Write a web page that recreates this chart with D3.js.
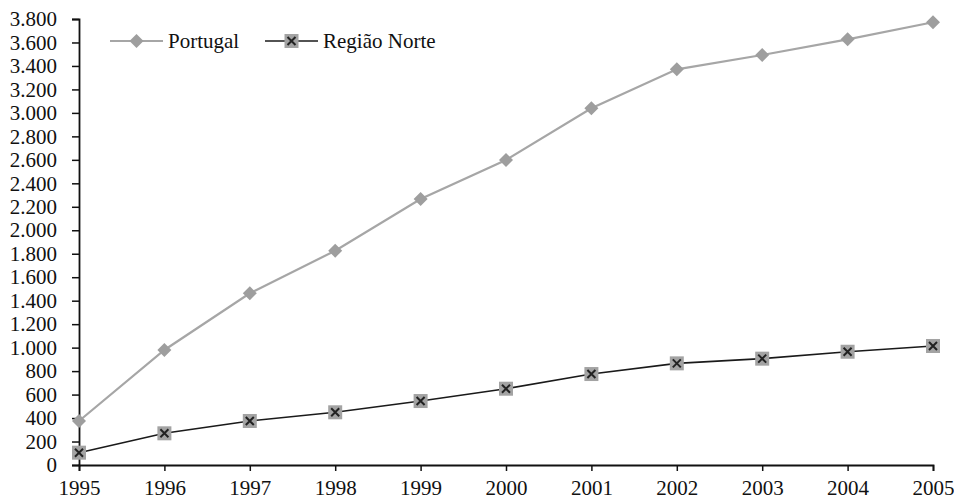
<!DOCTYPE html>
<html>
<head>
<meta charset="utf-8">
<script src="https://cdn.jsdelivr.net/npm/d3@7"></script>
<style>
  body { margin: 0; background: #fff; }
</style>
</head>
<body>
<div id="chart"></div>
<script>
"use strict";

// == DATA ==
var years = [1995, 1996, 1997, 1998, 1999, 2000, 2001, 2002, 2003, 2004, 2005];
var portugal = [375, 980, 1463, 1826, 2266, 2599, 3039, 3371, 3493, 3627, 3772];
var norte = [105, 270, 375, 449, 545, 650, 775, 866, 906, 965, 1014];
var yTicks = [0, 200, 400, 600, 800, 1000, 1200, 1400, 1600, 1800, 2000, 2200, 2400,
              2600, 2800, 3000, 3200, 3400, 3600, 3800];
var seriesNames = ["Portugal", "Região Norte"];

var FONT = "'Liberation Serif', 'Times New Roman', Times, serif";

// == BOILERPLATE ==
var W = 954, H = 499;
var margin = { top: 19, right: 21, bottom: 34, left: 79 },
    width = W - margin.left - margin.right,
    height = H - margin.top - margin.bottom;

var svg = d3.select("#chart")
  .append("svg")
  .attr("width", W)
  .attr("height", H);

var g = svg.append("g")
  .attr("transform", "translate(" + margin.left + "," + margin.top + ")");

var x = d3.scaleLinear().domain([1995, 2005]).range([0, width]);
var y = d3.scaleLinear().domain([0, 3800]).range([height, 0]);

var fmt = function (v) {
  return d3.format(",")(v).replace(/,/g, ".");
};

// == AXES ==
var yAxis = g.append("g")
  .call(d3.axisLeft(y).tickValues(yTicks).tickSize(7).tickPadding(15).tickFormat(fmt));
var xAxis = g.append("g")
  .attr("transform", "translate(0," + height + ")")
  .call(d3.axisBottom(x).tickValues(years).tickSize(6).tickPadding(9).tickFormat(d3.format("d")));

[yAxis, xAxis].forEach(function (a) {
  a.attr("font-family", null).attr("font-size", null);
  a.selectAll("path").attr("stroke", "#111").attr("stroke-width", 1.8);
  a.selectAll("line").attr("stroke", "#111").attr("stroke-width", 1.5);
  a.selectAll("text")
    .style("font-family", FONT)
    .style("font-size", "21px")
    .attr("fill", "#111");
});

// == LINES ==
var line = d3.line()
  .x(function (d, i) { return x(years[i]); })
  .y(function (d) { return y(d); });

g.append("path")
  .datum(portugal)
  .attr("d", line)
  .attr("fill", "none")
  .attr("stroke", "#a6a6a6")
  .attr("stroke-width", 2.2);

g.append("path")
  .datum(norte)
  .attr("d", line)
  .attr("fill", "none")
  .attr("stroke", "#1a1a1a")
  .attr("stroke-width", 1.6);

function diamond(sel) {
  sel.append("path")
    .attr("d", "M0,-7L7,0L0,7L-7,0Z")
    .attr("fill", "#9e9e9e");
}
function boxX(sel) {
  sel.append("rect")
    .attr("x", -7).attr("y", -7).attr("width", 14).attr("height", 14)
    .attr("fill", "#a3a3a3");
  sel.append("path")
    .attr("d", "M-4,-4L4,4M-4,4L4,-4")
    .attr("stroke", "#222")
    .attr("stroke-width", 2);
}

g.selectAll(".pt-pt")
  .data(portugal)
  .enter()
  .append("g")
  .attr("class", "pt-pt")
  .attr("transform", function (d, i) { return "translate(" + x(years[i]) + "," + y(d) + ")"; })
  .call(diamond);

g.selectAll(".pt-no")
  .data(norte)
  .enter()
  .append("g")
  .attr("class", "pt-no")
  .attr("transform", function (d, i) { return "translate(" + x(years[i]) + "," + y(d) + ")"; })
  .call(boxX);

// == LEGEND ==
var legend = svg.append("g").attr("transform", "translate(0,41)");
var items = [
  { name: seriesNames[0], x0: 110, color: "#a6a6a6", w: 2.2, mark: diamond },
  { name: seriesNames[1], x0: 265, color: "#1a1a1a", w: 1.6, mark: boxX }
];
items.forEach(function (it) {
  legend.append("line")
    .attr("x1", it.x0).attr("x2", it.x0 + 53)
    .attr("y1", 0).attr("y2", 0)
    .attr("stroke", it.color).attr("stroke-width", it.w);
  legend.append("g")
    .attr("transform", "translate(" + (it.x0 + 26.5) + ",0)")
    .call(it.mark);
  legend.append("text")
    .attr("x", it.x0 + 58)
    .attr("y", 0)
    .attr("dy", "0.33em")
    .style("font-family", FONT)
    .style("font-size", "21px")
    .attr("fill", "#111")
    .text(it.name);
});
</script>
</body>
</html>
